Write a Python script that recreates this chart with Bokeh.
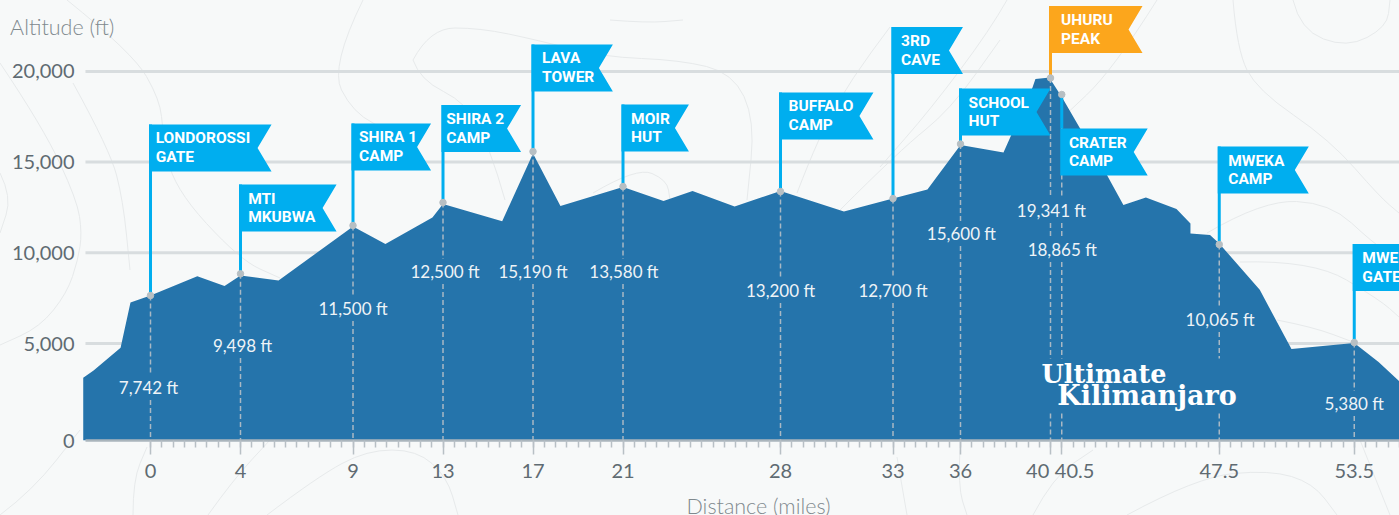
import base64
from bokeh.embed import file_html
from bokeh.resources import INLINE
from bokeh.plotting import figure
from bokeh.models import FixedTicker, Label, Title
from bokeh.core.properties import value

# ---- data ----
profile_mi = [-2.99,-2.53,-1.33,-0.89,0,2.08,3.29,4,5.69,9,10.44,12.53,13,15.63,17,18.22,21,22.8,24.09,25.96,28,
              30.82,33,34.53,36,37.91,39.2,39.33,39.87,40,40.51,41.29,42.52,43.24,44.24,45.6,46.22,46.22,47.09,
              47.5,49.3,50.71,53.5,54.58,55.51]
profile_ft = [3109,3512,4763,7260,7650,8710,8170,8749,8473,11450,10485,11946,12690,11742,15474,12580,13627,12856,
              13407,12552,13407,12277,12993,13490,15943,15529,19112,19581,19647,19553,18578,16907,14261,12635,13048,
              12415,11615,11064,10981,10513,7960,4697,5028,3980,2905]

station_mi = [0,4,9,13,17,21,28,33,36,40,40.5,47.5,53.5]
# the two close ticks push their labels apart with non-breaking spaces, as in the reference
station_tick = ["0","4","9","13","17","21","28","33","36","40\u00a0\u00a0\u00a0\u00a0\u00a0",
                "\u00a0\u00a0\u00a0\u00a0\u00a040.5","47.5","53.5"]
dot_ft = [7646,8842,11505,12773,15584,13655,13379,12993,15998,19636,18727,10458,5055]
alt_label = ["7,742 ft","9,498 ft","11,500 ft","12,500 ft","15,190 ft","13,580 ft","13,200 ft","12,700 ft",
             "15,600 ft","19,341 ft","18,865 ft","10,065 ft","5,380 ft"]
flag_line1 = ["LONDOROSSI","MTI","SHIRA 1","SHIRA 2","LAVA","MOIR","BUFFALO","3RD","SCHOOL","UHURU","CRATER","MWEKA","MWEKA"]
flag_line2 = ["GATE","MKUBWA","CAMP","CAMP","TOWER","HUT","CAMP","CAVE","HUT","PEAK","CAMP","CAMP","GATE"]
y_ticks = [5000,10000,15000,20000]
y_tick_text = ["5,000","10,000","15,000","20,000"]

# ---- layout (in axis units) ----
label_mi = [-0.09,0.09,0,0.09,0,0.04,0,0,0.04,0.04,0.02,0.04,0]
label_ft = [2574,4890,6930,8969,8969,8969,7922,7922,11064,12332,10182,6323,1692]
flag_top = [17073,13765,17128,18148,21483,18175,18837,22447,19057,23605,16852,15860,10485]
flag_width = [5.38,4.27,3.47,3.47,3.55,2.93,4.13,3.11,4.0,4.09,3.82,3.98,4.2]
text_dx = [0.23,0.34,0.27,0.14,0.40,0.36,0.36,0.36,0.36,0.47,0.32,0.40,0.36]
FLAG_H, NOTCH, POLE = 2591, 0.622, 0.067
BASE = -347
GAP = 690
LOGO_GAP = (1141, 4173)

BG, BLUE, CYAN, ORANGE = "#f7f9f9", "#2574ab", "#00aeef", "#fca61c"
GRID, AXIS, TICK, LABEL, TITLE = "#d8dddf", "#aab5bc", "#b8c0c5", "#5f6b72", "#7f898e"
DOT, DASH = "#b7bfc3", "#a9b8c4"

# faint topographic contours behind the chart
contours = [
 [(67,0),(133,53),(160,100),(163,133),(173,187),(240,260),(280,278)],
 [(0,63),(43,127),(77,200),(82,233),(78,260),(67,293),(40,327),(0,345)],
 [(73,83),(110,150),(123,200),(130,270)],
 [(0,173),(12,197),(0,233)],
 [(0,515),(33,490),(80,430)],
 [(133,515),(133,480),(147,447)],
 [(208,515),(233,480),(270,440)],
 [(267,515),(317,477),(367,450),(417,450),(447,477),(458,515)],
 [(363,0),(330,67),(353,113),(393,133),(430,170)],
 [(413,60),(430,28),(480,28),(537,40),(603,57),(680,60),(733,73),(755,120),(747,200)],
 [(413,60),(420,80),(467,103),(490,150),(505,200)],
 [(610,20),(647,23),(683,20)],
 [(593,193),(637,167),(667,180),(670,200)],
 [(797,193),(820,133),(853,77),(890,27)],
 [(840,210),(900,150),(950,110),(1000,40)],
 [(1007,0),(990,30),(930,110),(880,167)],
 [(1157,0),(1113,70),(1060,120)],
 [(1233,0),(1237,50),(1257,90),(1330,140),(1380,197),(1399,213)],
 [(1293,0),(1300,30),(1347,48),(1387,27),(1390,0)],
 [(1207,233),(1263,200),(1330,203),(1373,243),(1399,260)],
 [(1240,262),(1313,260),(1380,300),(1399,317)],
 [(1277,320),(1313,327),(1353,342)],
 [(1033,515),(1053,477),(1093,450)],
 [(1127,515),(1197,477),(1270,470),(1313,483),(1337,515)],
 [(1360,440),(1390,515)],
 [(897,457),(907,515)],
 [(960,447),(958,487),(967,515)],
]
def smooth(pts):
    d = f"M{pts[0][0]} {pts[0][1]}"
    for i in range(1, len(pts) - 1):
        mx, my = (pts[i][0] + pts[i + 1][0]) / 2, (pts[i][1] + pts[i + 1][1]) / 2
        d += f" Q{pts[i][0]} {pts[i][1]} {mx} {my}"
    d += f" L{pts[-1][0]} {pts[-1][1]}"
    return d
svg = ('<svg xmlns="http://www.w3.org/2000/svg" width="1399" height="515">'
       + "".join(f'<path d="{smooth(c)}" fill="none" stroke="#e7eaeb" stroke-width="1"/>' for c in contours)
       + "</svg>")
bg_uri = "data:image/svg+xml;base64," + base64.b64encode(svg.encode()).decode()

p = figure(width=1399, height=528, output_backend="svg", toolbar_location=None,
           x_range=(-6.667, 55.511), y_range=(BASE, 23908),
           min_border_left=0, min_border_right=0, min_border_top=0, min_border_bottom=88)
p.styles = {"position": "absolute", "left": "0", "top": "0", "background-color": BG, "overflow": "hidden",
            "clip-path": "inset(0 0 13px 0)",
            "background-image": f"url('{bg_uri}')", "background-repeat": "no-repeat"}
p.background_fill_alpha = 0
p.border_fill_alpha = 0
p.outline_line_color = None

p.xgrid.visible = False
p.ygrid.visible = False
p.segment(x0=[-2.89] * len(y_ticks), x1=[55.6] * len(y_ticks), y0=y_ticks, y1=y_ticks,
          line_color=GRID, line_width=3, level="underlay")

ax = p.xaxis[0]
ax.ticker = FixedTicker(ticks=station_mi, minor_ticks=[i * 0.5 for i in range(0, 112)])
ax.major_label_overrides = dict(zip(station_mi, station_tick))
ax.bounds = (-2.89, 55.6)
ax.axis_line_color = AXIS
ax.axis_line_width = 2.5
ax.major_tick_line_color = TICK
ax.major_tick_line_width = 1.5
ax.major_tick_in = 0
ax.major_tick_out = 14
ax.minor_tick_line_color = TICK
ax.minor_tick_line_width = 1.5
ax.minor_tick_in = 0
ax.minor_tick_out = 7
ax.major_label_standoff = 3
ax.major_label_text_font = "Lato"
ax.major_label_text_font_size = "20px"
ax.major_label_text_color = LABEL

ay = p.yaxis[0]
ay.ticker = FixedTicker(ticks=[BASE] + y_ticks)
ay.major_label_overrides = {BASE: "0", **dict(zip(y_ticks, y_tick_text))}
ay.axis_line_color = None
ay.major_tick_line_color = None
ay.minor_tick_line_color = None
ay.major_tick_in = 0
ay.major_tick_out = 0
ay.major_label_standoff = -74
ay.major_label_text_font = "Lato"
ay.major_label_text_font_size = "20px"
ay.major_label_text_color = LABEL

p.varea(x=profile_mi, y1=[BASE] * len(profile_mi), y2=profile_ft, color=BLUE)

# dashed drop lines, interrupted behind the altitude labels and the logo
xs, ys = [], []
for i, (m, d) in enumerate(zip(station_mi, dot_ft)):
    gaps = [(label_ft[i] - GAP, label_ft[i] + GAP)]
    if m == 40 or m == 40.5:
        gaps = [(label_ft[9] - GAP, label_ft[9] + GAP), (label_ft[10] - GAP, label_ft[10] + GAP)]
    if m >= 40 and m <= 47.5:
        gaps.append(LOGO_GAP)
    top = d
    for lo, hi in sorted(gaps, reverse=True):
        xs.append([m, m]); ys.append([top, hi])
        top = lo
    xs.append([m, m]); ys.append([top, BASE])
p.multi_line(xs=xs, ys=ys, line_color=DASH, line_width=1.5, line_dash="5 3")

# flags
colors = [ORANGE if a == "UHURU" else CYAN for a in flag_line1]
p.segment(x0=station_mi, y0=dot_ft, x1=station_mi, y1=flag_top, line_color=colors, line_width=3)
fx, fy = [], []
for m, t, w in zip(station_mi, flag_top, flag_width):
    fx.append([m - POLE, m + w, m + w - NOTCH, m + w, m - POLE])
    fy.append([t, t, t - FLAG_H / 2, t - FLAG_H, t - FLAG_H])
p.patches(xs=fx, ys=fy, fill_color=colors, line_color=None)
p.scatter(x=station_mi, y=dot_ft, size=6.5, color=DOT)

tx = [m + d for m, d in zip(station_mi, text_dx)]
for txt, off in ((flag_line1, 772), (flag_line2, 1819)):
    p.text(x=tx, y=[t - off for t in flag_top], text=txt, text_color="white",
           text_font=value("Roboto"), text_font_style="bold", text_font_size="15.5px",
           text_baseline="middle", text_align="left")

p.text(x=[m + d for m, d in zip(station_mi, label_mi)], y=label_ft, text=alt_label, text_color="#eef3f7",
       text_font=value("Lato"), text_font_size="17px", text_baseline="middle", text_align="center")

# logo wordmark
p.text(x=[39.6], y=[3314], text=["Ultimate"], text_color="white", text_font=value("DejaVu Serif"),
       text_font_style="bold", text_font_size="25.5px", text_baseline="middle", text_align="left")
p.text(x=[40.3], y=[2150], text=["Kilimanjaro"], text_color="white", text_font=value("DejaVu Serif"),
       text_font_style="bold", text_font_size="27px", text_baseline="middle", text_align="left")

p.add_layout(Label(x=-6.24, y=22470, text="Altitude (ft)", text_font="Lato Light", text_font_size="21.5px",
                   text_color=TITLE, text_baseline="middle", text_align="left"))
p.add_layout(Title(text="Distance (miles)", text_font="Lato Light", text_font_size="21.5px", text_font_style="normal",
                   text_color=TITLE, align="left", offset=686, standoff=12), "below")

open("out.html", "w").write(file_html(p, INLINE))
